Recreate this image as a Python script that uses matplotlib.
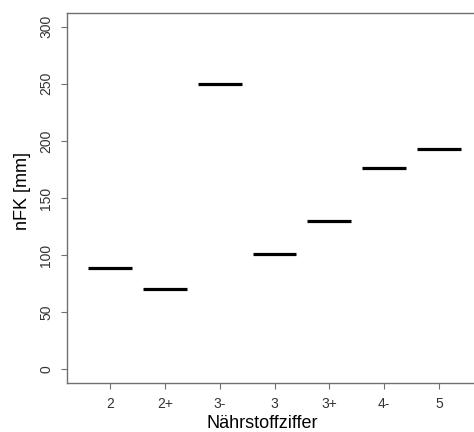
import matplotlib
matplotlib.use("Agg")
import matplotlib.pyplot as plt
import numpy as np

plt.rcParams['font.family'] = ['Liberation Sans', 'DejaVu Sans']

# Werte
klassen = ["2", "2+", "3-", "3", "3+", "4-", "5"]
nfk = [89, 70, 250, 101, 130, 176, 193]
y_ticks = [0, 50, 100, 150, 200, 250, 300]

fig = plt.figure(figsize=(4.74, 4.32), dpi=100)
ax = fig.add_axes([0.1414, 0.1134, 0.8755, 0.8565])

pos = np.arange(1, len(klassen) + 1)
ax.hlines(nfk, pos - 0.4, pos + 0.4, colors="black", linewidth=2.3)

ax.set_xlim(0.22, 7.78)
ax.set_ylim(-12, 312)
ax.set_xticks(pos)
ax.set_xticklabels(klassen)
ax.set_yticks(y_ticks)
ax.set_yticklabels([str(v) for v in y_ticks], rotation=90, va="center")

for s in ax.spines.values():
    s.set_color("#707070")
    s.set_linewidth(1.0)

ax.tick_params(axis="x", length=4, width=0.8, color="#707070", pad=6,
               labelsize=10, labelcolor="#333333")
ax.tick_params(axis="y", length=4, width=0.8, color="#707070", pad=6,
               labelsize=10, labelcolor="#333333")

ax.set_xlabel("Nährstoffziffer", fontsize=13)
ax.set_ylabel("nFK [mm]", fontsize=13)
ax.xaxis.set_label_coords(0.47, -0.087)
ax.yaxis.set_label_coords(-0.087, 0.52)

fig.savefig("out.png", dpi=100)
